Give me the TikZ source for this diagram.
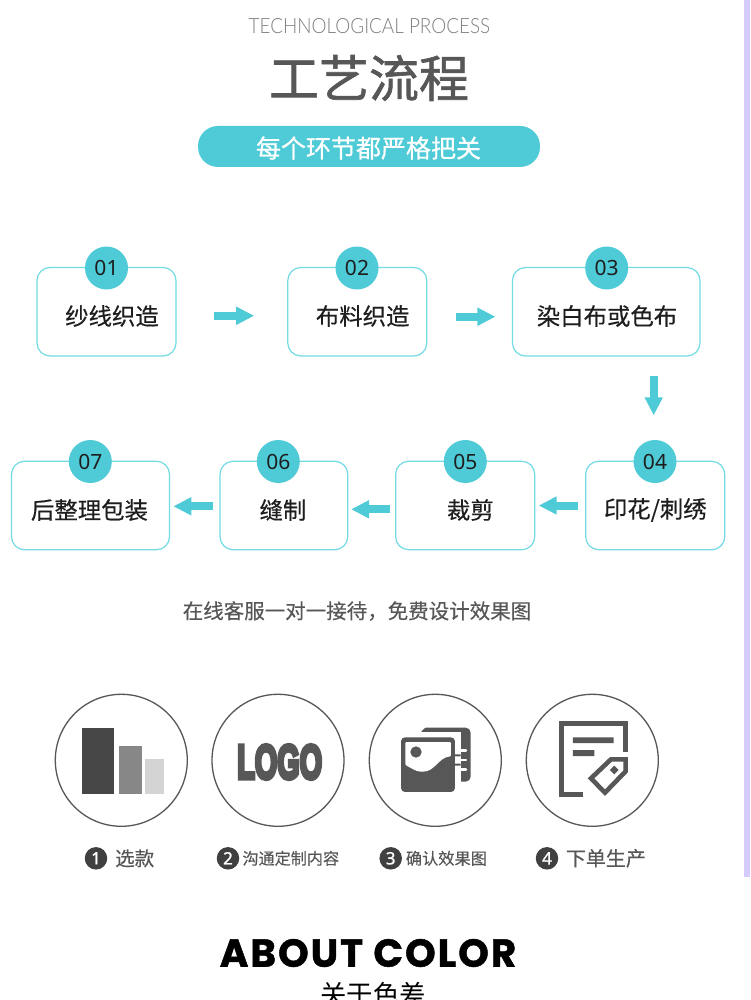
\documentclass[tikz,border=0pt]{standalone}
\usepackage{fontspec}
\usetikzlibrary{arrows.meta,calc}
\setmainfont{Noto Sans CJK SC}
\newfontfamily\cjkfont[FakeBold=0.35]{Noto Sans CJK SC}
\newfontfamily\cjkpill[FakeBold=0.7]{Noto Sans CJK SC}
\newfontfamily\cjkplain{Noto Sans CJK SC}
\newfontfamily\cjkthick[FakeBold=1.2]{Noto Sans CJK SC}
\newfontfamily\numfont{Noto Sans}
\newfontfamily\diskfont[FakeBold=1.2]{Noto Sans}
\newfontfamily\subfont{Lato Light}
\newfontfamily\headfont[FakeBold=1.2,LetterSpace=5]{Poppins}
\newfontfamily\logofont[FakeBold=9]{Liberation Sans}
\definecolor{teal}{HTML}{4ECBD6}
\definecolor{edge}{HTML}{72DBE4}
\definecolor{ink}{HTML}{1E1E1E}
\definecolor{mid}{HTML}{575757}
\definecolor{strip}{HTML}{D5CCFC}
\tikzset{
  stepbox/.style={draw=edge,line width=1.2pt,rounded corners=13pt,fill=white,inner sep=0pt},
  badge/.style={circle,fill=teal,minimum size=43pt,inner sep=0pt,text=ink,font=\numfont\fontsize{21}{24}\selectfont},
  steptext/.style={text=ink,inner sep=0pt,font=\cjkfont\fontsize{23.4}{28}\selectfont},
  flow/.style={draw=teal,line width=8pt,-{Triangle[length=18pt,width=17pt]}},
  ring/.style={circle,draw=mid,line width=1.3pt,minimum size=132pt,inner sep=0pt},
  disk/.style={circle,fill=black!75,text=white,minimum size=22.5pt,inner sep=0pt,font=\diskfont\fontsize{17}{20}\selectfont},
  caption/.style={text=mid,inner sep=0pt,anchor=west},
}
\begin{document}
\begin{tikzpicture}[x=1pt,y=-1pt]
\useasboundingbox (0,0) rectangle (750,1000);
\fill[white] (0,0) rectangle (750,1000);
\fill[strip] (744,0) rectangle (750,877);
% header
\node[inner sep=0pt,text=black!50,xscale=0.9] (sub) at (369.5,26) {\subfont\fontsize{21}{24}\selectfont TECHNOLOGICAL PROCESS};
\node[inner sep=0pt,text=mid] (title) at (369,78) {\cjkthick\fontsize{50}{56}\selectfont 工艺流程};
\node[fill=teal,rounded corners=20pt,minimum width=342pt,minimum height=41pt,inner sep=0pt] (pill) at (369,146.5) {};
\node[inner sep=0pt,text=white] (pilltext) at (368.5,148) {\cjkpill\fontsize{25}{30}\selectfont 每个环节都严格把关};
% boxes
\node[stepbox,minimum width=139pt,minimum height=88.5pt] (b1) at (106.5,311.75) {};
\node[stepbox,minimum width=139pt,minimum height=88.5pt] (b2) at (357.3,311.75) {};
\node[stepbox,minimum width=187.5pt,minimum height=88.5pt] (b3) at (606.2,311.75) {};
\node[stepbox,minimum width=139pt,minimum height=88.5pt] (b4) at (655.2,505.5) {};
\node[stepbox,minimum width=139pt,minimum height=88.5pt] (b5) at (465.2,505.5) {};
\node[stepbox,minimum width=127.7pt,minimum height=88.5pt] (b6) at (283.9,505.5) {};
\node[stepbox,minimum width=158pt,minimum height=88.5pt] (b7) at (90.5,505.5) {};
% badges
\node[badge] (n1) at (106.5,268) {01};
\node[badge] (n2) at (357,268) {02};
\node[badge] (n3) at (606.7,268) {03};
\node[badge] (n4) at (655,461.5) {04};
\node[badge] (n5) at (465.3,461.5) {05};
\node[badge] (n6) at (278.3,461.5) {06};
\node[badge] (n7) at (90.3,461.5) {07};
% step texts
\node[steptext] (t1) at (112,316) {纱线织造};
\node[steptext] (t2) at (362.7,316) {布料织造};
\node[steptext] (t3) at (607,316) {染白布或色布};
\node[steptext] (t4) at (655.3,510) {印花/刺绣};
\node[steptext] (t5) at (470.3,510) {裁剪};
\node[steptext] (t6) at (283,510) {缝制};
\node[steptext] (t7) at (89.5,510) {后整理包装};
% arrows
\draw[flow,shorten <=37.5pt,shorten >=33pt] ([yshift=-4pt]b1.east) -- ([yshift=-4pt]b2.west);
\draw[flow,shorten <=28.6pt,shorten >=16.4pt] ([yshift=-5pt]b2.east) -- ([yshift=-5pt]b3.west);
\draw[flow,shorten <=19.7pt,shorten >=45.3pt] (b3.south -| n4) ++(-1.3,0) coordinate (d1) (b4.north -| n4) ++(-1.3,0) coordinate (d2) (d1) -- (d2);
\draw[flow,shorten <=6.7pt,shorten >=3.4pt] ([yshift=0pt]b4.west) -- ([yshift=0pt]b5.east);
\draw[flow,shorten <=5pt,shorten >=2.7pt] ([yshift=-3.8pt]b5.west) -- ([yshift=-3.8pt]b6.east);
\draw[flow,shorten <=6.7pt,shorten >=3.2pt] ([yshift=-0.8pt]b6.west) -- ([yshift=-0.8pt]b7.east);
% sentence
\node[inner sep=0pt,text=mid] (sentence) at (357,611) {\cjkfont\fontsize{20.5}{24}\selectfont 在线客服一对一接待，免费设计效果图};
% rings
\node[ring] (r1) at (121.3,760.3) {};
\node[ring] (r2) at (278,760.3) {};
\node[ring] (r3) at (435.3,760.3) {};
\node[ring] (r4) at (592.3,760.3) {};
% icon 1
\fill[black!72] (82,727.7) rectangle (114,793.7);
\fill[black!47] (118.7,746) rectangle (142,793.7);
\fill[black!17] (144.7,759) rectangle (163.7,793.7);
% icon 2
\node[inner sep=0pt,text=mid,xscale=0.6] (logo) at (279.7,762) {\logofont\bfseries\fontsize{48}{50}\selectfont LOGO};
% icon 3
\begin{scope}[shift={(355,680)},x=0.3333pt,y=-0.3333pt]
\fill[mid,rounded corners=5pt] (198,143) rectangle (347,305);
\fill[white] (190,155) rectangle (317,320);
\fill[white] (190,143) -- (210,143) -- (198,155) -- cycle;
\fill[mid] (300,223) rectangle (317,229) (300,251) rectangle (317,257);
\fill[mid,rounded corners=4pt] (138,172) rectangle (300,336);
\fill[white,rounded corners=1pt] (151,186) -- (288,186) -- (288,229) .. controls (250,232) and (240,276) .. (200,275) .. controls (183,275) and (165,262) .. (151,255) -- cycle;
\fill[mid] (183,216) circle (17);
\foreach \yy in {212,240,268} \draw[white,line width=2.5pt,line cap=round] (310,\yy) -- (333,\yy);
\end{scope}
% icon 4
\begin{scope}[shift={(355,680)},x=0.3333pt,y=-0.3333pt]
\draw[mid,line width=4.6pt] (683,343) -- (619,343) -- (619,131) -- (812,131) -- (812,215);
\fill[mid] (654,172) rectangle (776,189) (654,210) rectangle (718,228);
\draw[mid,line width=4.6pt,line join=miter] (812,238) -- (768,238) -- (708,295) -- (750,338) -- (812,274) -- cycle;
\fill[mid] (778,257) -- (791,270) -- (778,283) -- (765,270) -- cycle;
\end{scope}
% captions
\node[disk] (d1n) at (96,858.3) {1};
\node[disk] (d2n) at (228,858.3) {2};
\node[disk] (d3n) at (390.7,858.3) {3};
\node[disk] (d4n) at (547,858.3) {4};
\node[caption] (c1) at (115,858.3) {\cjkfont\fontsize{19.5}{22}\selectfont 选款};
\node[caption] (c2) at (242.3,858.3) {\cjkfont\fontsize{16.1}{20}\selectfont 沟通定制内容};
\node[caption] (c3) at (405.7,858.3) {\cjkfont\fontsize{16.2}{20}\selectfont 确认效果图};
\node[caption] (c4) at (565.7,858.3) {\cjkfont\fontsize{20}{24}\selectfont 下单生产};
% footer
\node[inner sep=0pt,text=black] (about) at (368,953) {\headfont\bfseries\fontsize{39}{44}\selectfont ABOUT COLOR};
\begin{scope}
\clip (0,0) rectangle (750,1000);
\node[inner sep=0pt,text=black] (about2) at (373,994) {\cjkplain\fontsize{26.4}{30}\selectfont 关于色差};
\end{scope}
\end{tikzpicture}
\end{document}
